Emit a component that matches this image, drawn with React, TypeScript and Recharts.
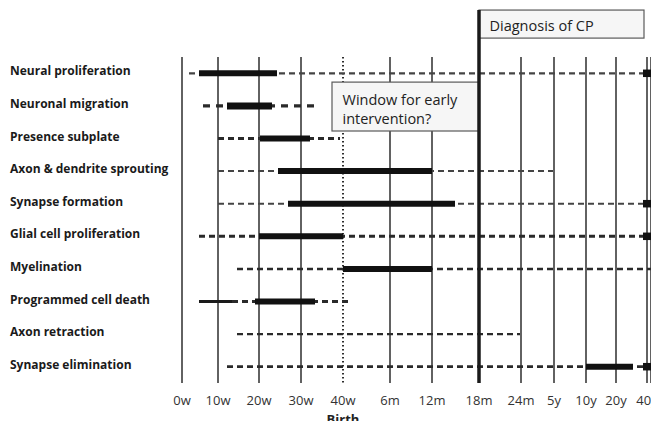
import React from 'react';
import { LineChart, Line, XAxis, YAxis, CartesianGrid, ReferenceLine, ReferenceArea } from 'recharts';

const PROCESSES = [
  'Neural proliferation',
  'Neuronal migration',
  'Presence subplate',
  'Axon & dendrite sprouting',
  'Synapse formation',
  'Glial cell proliferation',
  'Myelination',
  'Programmed cell death',
  'Axon retraction',
  'Synapse elimination',
];

const AGE_LABELS = ['0w', '10w', '20w', '30w', '40w', '6m', '12m', '18m', '24m', '5y', '10y', '20y', '40y'];
// the time axis is not linear: where each age label sits on it
const AGE_POS = [0, 36, 77, 119, 161, 208, 250, 297, 339, 372, 404, 434, 465];

// [from, to] on the time axis, one per process, null = nothing drawn
const POSSIBLE = [
  [7, 461], [21, 136], [36, 158], [36, 371], [36, 461],
  [17, 461], [55, 469], [50, 166], [55, 338], [45, 461],
];
const PEAK = [
  [17, 95], [45, 90], [78, 128], [96, 250], [106, 273],
  [77, 161], [161, 250], [73, 133], null, [404, 451],
];
const EARLY = [null, null, null, null, null, null, null, [17, 50], null, null];
const ADULT = [[461, 469], null, null, null, [461, 469], [461, 469], null, null, null, [461, 469]];

// annotation boxes, in axis units
const WINDOW_BOX = { x1: 150, x2: 297, y1: 0.27, y2: 1.77 };
const DIAG_BOX = { x1: 297, x2: 462, y1: -1.94, y2: -1.08 };

const DASH_W = [2.2, 3.4, 3, 2, 2, 3, 2.5, 3, 2.4, 2.8];
const FONT = "'Open Sans', sans-serif";

const seg = (key: string, row: number, range: number[] | null, stroke: string, width: number, dash?: string) =>
  range ? (
    <Line
      key={key}
      data={[{ t: range[0], row }, { t: range[1], row }]}
      dataKey="row"
      stroke={stroke}
      strokeWidth={width}
      strokeDasharray={dash}
      dot={false}
      activeDot={false}
      isAnimationActive={false}
    />
  ) : null;

const gridLine = (p: any) => {
  const i = p.index ?? parseInt(String(p.key).split('-')[1], 10);
  if (i === 7) return <g key={p.key} />;
  return (
    <line
      key={p.key}
      x1={p.x1}
      x2={p.x2}
      y1={p.y1}
      y2={p.y2}
      stroke="#2e2e2e"
      strokeWidth={i === 4 ? 2 : 1.5}
      strokeDasharray={i === 4 ? '1.5 2.5' : undefined}
    />
  );
};

const noteBox = (lines: string[], top: number, gap: number) => (p: any) => (
  <g>
    <rect x={p.x} y={p.y} width={p.width} height={p.height} fill="#f6f6f6" stroke="#5a5a5a" strokeWidth={1.2} />
    {lines.map((l, i) => (
      <text key={l} x={p.x + 10.5} y={p.y + top + i * gap} fontSize={14.5} fill="#222" fontFamily={FONT}>
        {l}
      </text>
    ))}
  </g>
);

const AgeTick = (p: any) => {
  const i = AGE_POS.indexOf(p.payload.value);
  return (
    <g>
      <text x={p.x} y={p.y + 21.5} textAnchor="middle" fontSize={13} fill="#333" fontFamily={FONT}>
        {AGE_LABELS[i]}
      </text>
      {i === 4 && (
        <text x={p.x} y={p.y + 41} textAnchor="middle" fontSize={13} fontWeight="bold" fill="#222" fontFamily={FONT}>
          Birth
        </text>
      )}
    </g>
  );
};

const ProcessTick = (p: any) => (
  <text x={10} y={p.y + 2} textAnchor="start" fontSize={12} fontWeight="bold" fill="#1a1a1a" fontFamily={FONT}>
    {PROCESSES[p.payload.value]}
  </text>
);

export default function App() {
  return (
    <div style={{ position: 'absolute', left: 0, top: 0, width: 651, height: 421 }}>
      <LineChart width={651} height={421} margin={{ top: 57, right: 0, bottom: 0, left: 0 }}>
        <CartesianGrid horizontal={false} vertical={gridLine} />
        <XAxis
          dataKey="t"
          type="number"
          domain={[0, 469]}
          ticks={AGE_POS}
          interval={0}
          height={38}
          axisLine={false}
          tickLine={false}
          tickSize={0}
          tickMargin={0}
          tick={AgeTick}
        />
        <YAxis
          type="number"
          domain={[-0.5, 9.5]}
          ticks={PROCESSES.map((_, i) => i)}
          interval={0}
          reversed
          width={182}
          axisLine={false}
          tickLine={false}
          tick={ProcessTick}
        />
        {POSSIBLE.map((r, i) => seg(`p${i}`, i, r, i === 0 || i === 3 || i === 4 ? '#444' : '#2a2a2a', DASH_W[i], i === 1 ? '7 6' : '6 4'))}
        {EARLY.map((r, i) => seg(`e${i}`, i, r, '#1a1a1a', 3.2))}
        {PEAK.map((r, i) => seg(`k${i}`, i, r, '#111', i === 1 ? 7 : 6))}
        {ADULT.map((r, i) => seg(`a${i}`, i, r, '#111', 7.5))}
        <ReferenceArea {...WINDOW_BOX} ifOverflow="visible" shape={noteBox(['Window for early', 'intervention?'], 22.5, 19)} />
        <ReferenceArea {...DIAG_BOX} ifOverflow="visible" shape={noteBox(['Diagnosis of CP'], 20.7, 0)} />
        <ReferenceLine
          segment={[{ x: AGE_POS[7], y: DIAG_BOX.y1 }, { x: AGE_POS[7], y: 9.5 }]}
          ifOverflow="visible"
          stroke="#1a1a1a"
          strokeWidth={3.5}
        />
      </LineChart>
    </div>
  );
}
